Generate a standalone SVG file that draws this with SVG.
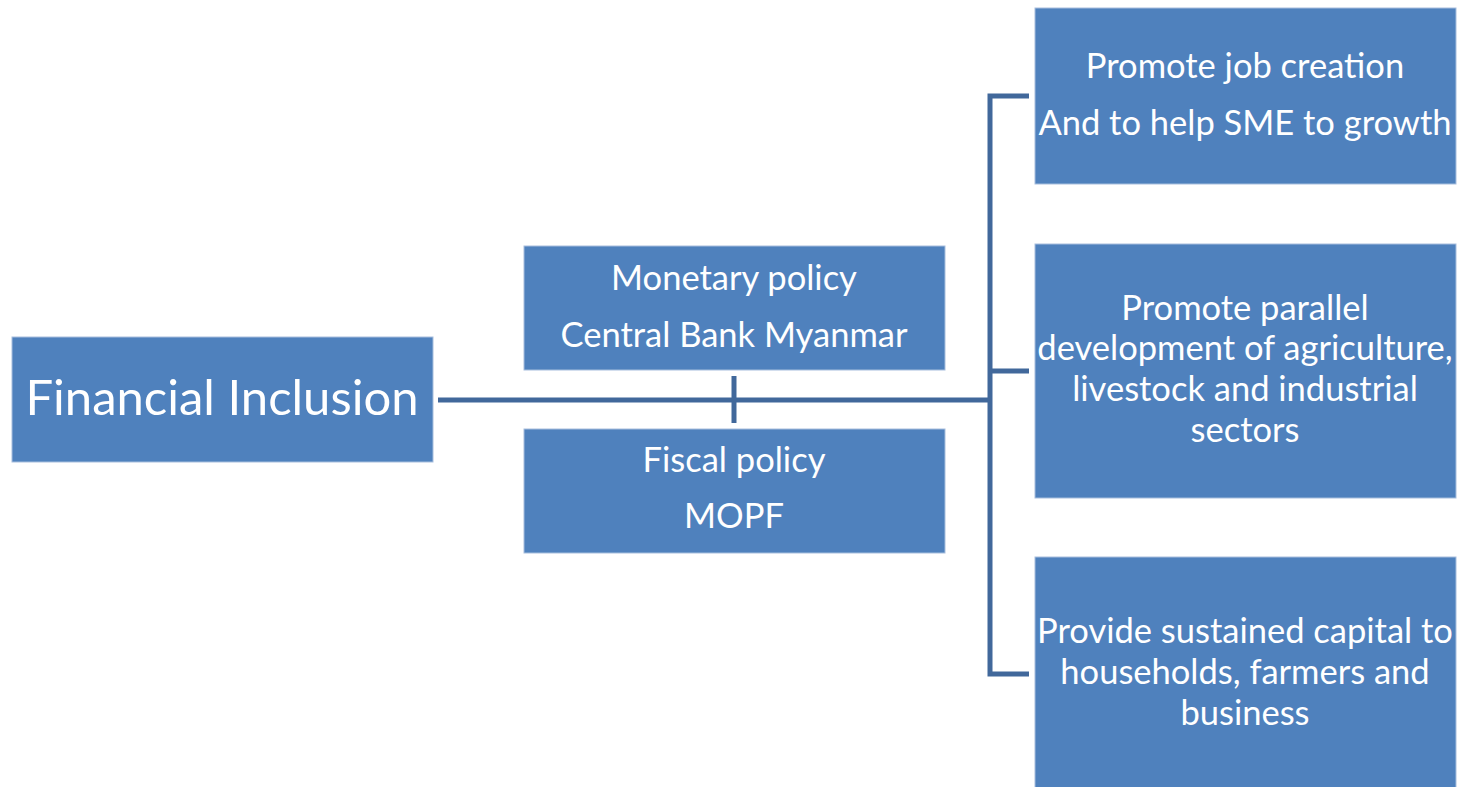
<svg xmlns="http://www.w3.org/2000/svg" width="1458" height="787" viewBox="0 0 1458 787">
  <style>
    .box { fill: #4F81BD; stroke: #A7BEDD; stroke-width: 1; }
    .lbl { fill: #FFFFFF; font-family: Lato, "Open Sans", sans-serif; font-size: 34.5px; text-anchor: middle; }
    .big { font-size: 49px; }
    .wire { fill: none; stroke: #41689B; stroke-width: 5; stroke-linejoin: miter; stroke-linecap: butt; }
  </style>
  <rect width="1458" height="787" fill="#FFFFFF"/>

  <!-- connectors -->
  <g id="connectors">
    <path class="wire" d="M438 400 H990"/>
    <path class="wire" d="M734 376 V423"/>
    <path class="wire" d="M1029 96 H990 V674 H1029"/>
    <path class="wire" d="M990 371 H1029"/>
  </g>

  <g id="financial-inclusion">
    <rect class="box" x="12" y="337" width="421" height="125"/>
    <text class="lbl big" x="222" y="415">Financial Inclusion</text>
  </g>

  <g id="monetary-policy">
    <rect class="box" x="524" y="246" width="421" height="124"/>
    <text class="lbl" x="734" y="290">Monetary policy</text>
    <text class="lbl" x="734" y="347">Central Bank Myanmar</text>
  </g>

  <g id="fiscal-policy">
    <rect class="box" x="524" y="429" width="421" height="124"/>
    <text class="lbl" x="734" y="472">Fiscal policy</text>
    <text class="lbl" x="734" y="528">MOPF</text>
  </g>

  <g id="job-creation">
    <rect class="box" x="1035" y="8" width="421" height="176"/>
    <text class="lbl" x="1245" y="78">Promote job creation</text>
    <text class="lbl" x="1245" y="135">And to help SME to growth</text>
  </g>

  <g id="parallel-development">
    <rect class="box" x="1035" y="244" width="421" height="254"/>
    <text class="lbl" x="1245" y="320">Promote parallel</text>
    <text class="lbl" x="1245" y="360">development of agriculture,</text>
    <text class="lbl" x="1245" y="401">livestock and industrial</text>
    <text class="lbl" x="1245" y="442">sectors</text>
  </g>

  <g id="sustained-capital">
    <rect class="box" x="1035" y="557" width="421" height="232"/>
    <text class="lbl" x="1245" y="643">Provide sustained capital to</text>
    <text class="lbl" x="1245" y="684">households, farmers and</text>
    <text class="lbl" x="1245" y="725">business</text>
  </g>
</svg>
